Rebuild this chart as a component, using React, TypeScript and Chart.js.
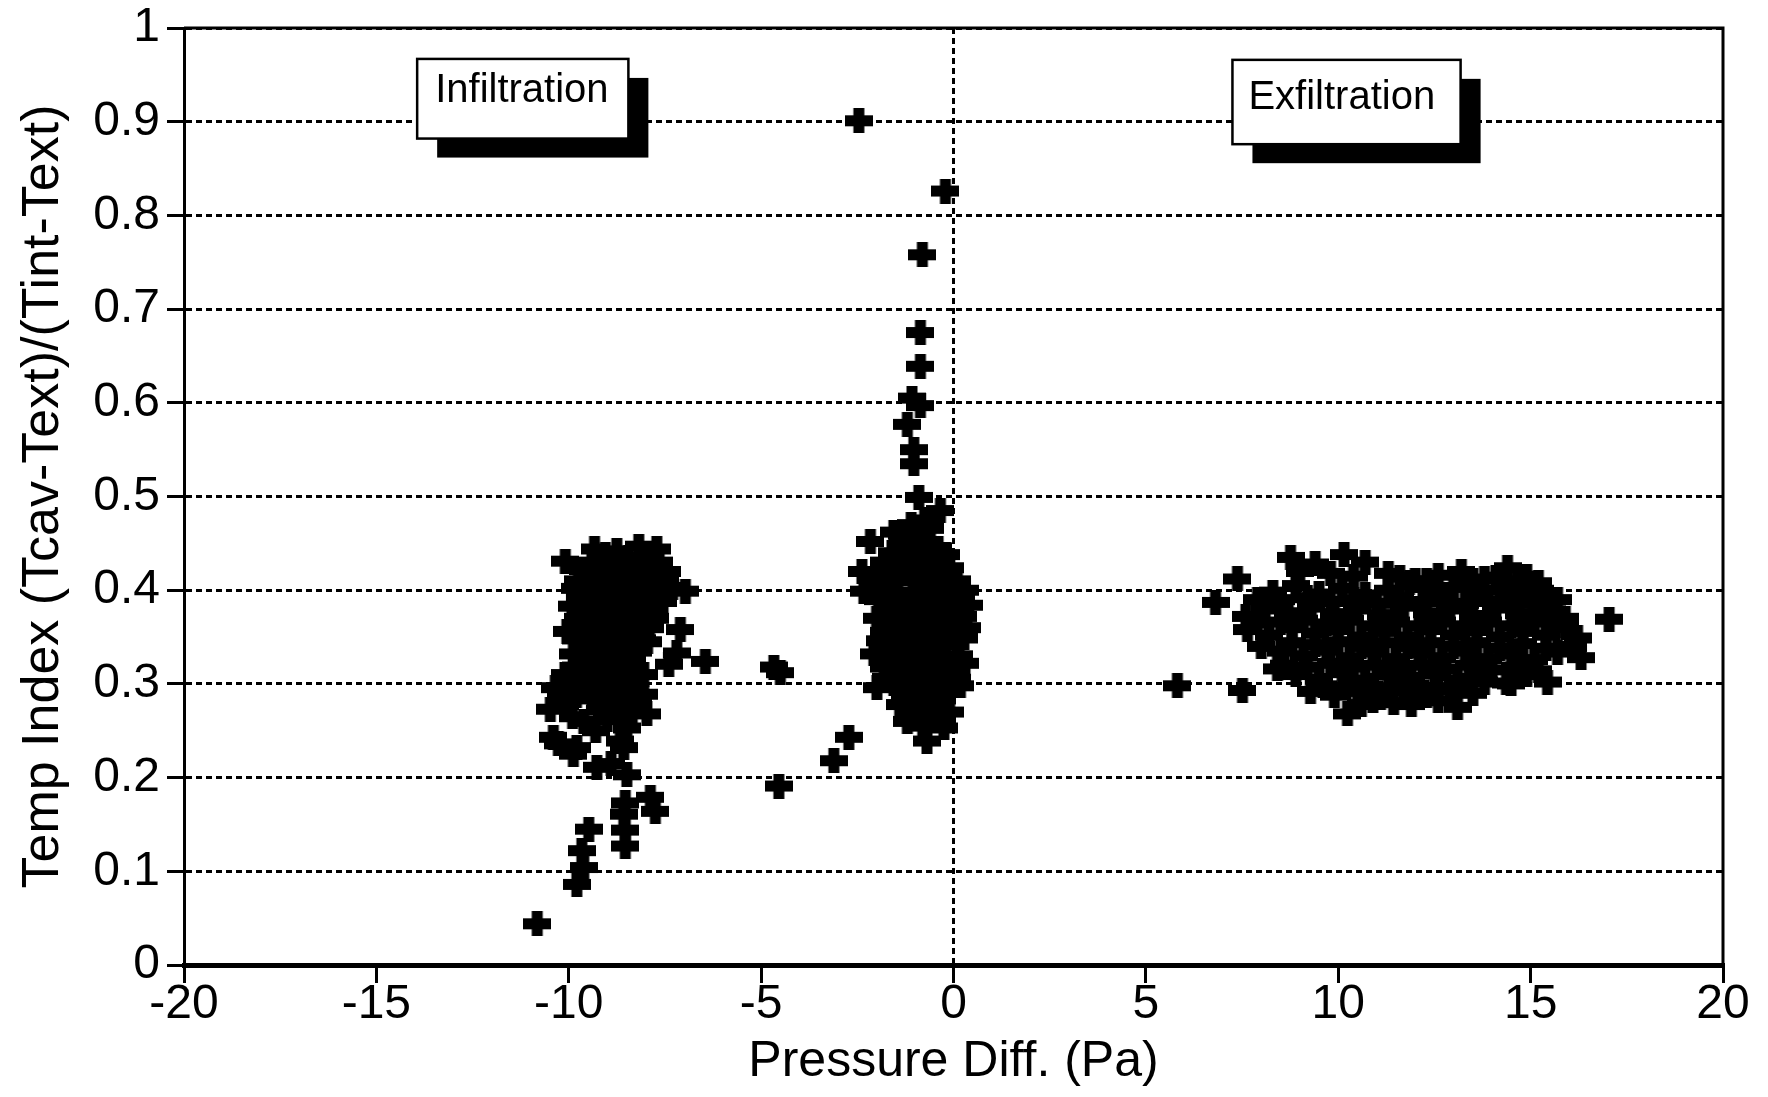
import React, { useEffect, useRef } from "react";
import { Chart, registerables } from "chart.js";

Chart.register(...registerables);

// ---- Data (Pressure Diff. [Pa], Temp Index) ----
const xTickValues = [-20, -15, -10, -5, 0, 5, 10, 15, 20];
const xTickLabels = ["-20", "-15", "-10", "-5", "0", "5", "10", "15", "20"];
const yTickValues = [0, 0.1, 0.2, 0.3, 0.4, 0.5, 0.6, 0.7, 0.8, 0.9, 1];
const yTickLabels = ["0", "0.1", "0.2", "0.3", "0.4", "0.5", "0.6", "0.7", "0.8", "0.9", "1"];

const regionNames = ["Infiltration", "Exfiltration"];
const xAxisTitle = "Pressure Diff. (Pa)";
const yAxisTitle = "Temp Index (Tcav-Text)/(Tint-Text)";

const infiltrationCluster: [number, number][] = [
  [-10.09, 0.431], [-9.33, 0.444], [-8.75, 0.442], [-8.18, 0.447], [-7.71, 0.444], [-9.05, 0.438], [-8.45, 0.435], [-7.95, 0.437],
  [-9.4, 0.43], [-8.95, 0.432], [-8.55, 0.43], [-8.1, 0.428], [-7.65, 0.43],
  [-9.62, 0.422], [-9.2, 0.418], [-8.8, 0.425], [-8.35, 0.42], [-7.9, 0.416], [-7.45, 0.42],
  [-9.75, 0.41], [-9.3, 0.408], [-8.85, 0.412], [-8.4, 0.41], [-7.95, 0.405], [-7.5, 0.41],
  [-9.85, 0.402], [-9.45, 0.405], [-9.0, 0.398], [-8.6, 0.404], [-8.15, 0.4], [-7.7, 0.397], [-7.3, 0.403], [-6.97, 0.399],
  [-9.7, 0.392], [-9.25, 0.39], [-8.8, 0.393], [-8.4, 0.388], [-7.95, 0.39], [-7.55, 0.388],
  [-9.92, 0.383], [-9.5, 0.378], [-9.1, 0.385], [-8.7, 0.38], [-8.25, 0.384], [-7.85, 0.378],
  [-9.75, 0.37], [-9.35, 0.368], [-8.9, 0.372], [-8.5, 0.37], [-8.05, 0.368], [-7.75, 0.37],
  [-10.05, 0.356], [-9.6, 0.362], [-9.2, 0.358], [-8.75, 0.364], [-8.35, 0.357], [-7.9, 0.36], [-7.1, 0.358],
  [-9.8, 0.348], [-9.35, 0.35], [-8.9, 0.348], [-8.45, 0.35], [-8.1, 0.347],
  [-9.88, 0.332], [-9.5, 0.34], [-9.05, 0.336], [-8.6, 0.342], [-8.2, 0.335], [-7.95, 0.345], [-7.4, 0.321], [-7.19, 0.333], [-6.45, 0.324],
  [-9.65, 0.325], [-9.2, 0.328], [-8.75, 0.326], [-8.35, 0.326],
  [-9.8, 0.318], [-9.35, 0.314], [-8.9, 0.32], [-8.45, 0.316], [-8.05, 0.31],
  [-10.1, 0.31], [-9.65, 0.306], [-9.2, 0.308], [-8.75, 0.31], [-8.3, 0.305],
  [-10.35, 0.296], [-9.95, 0.3], [-9.5, 0.294], [-9.05, 0.298], [-8.6, 0.302], [-8.05, 0.289],
  [-10.2, 0.285], [-9.8, 0.288], [-9.4, 0.284], [-8.95, 0.286], [-8.5, 0.29], [-8.2, 0.28],
  [-10.48, 0.273], [-10.1, 0.278], [-9.61, 0.26], [-9.2, 0.272], [-8.75, 0.276], [-8.35, 0.27], [-7.97, 0.268],
  [-9.9, 0.265], [-9.0, 0.262], [-8.6, 0.262],
  [-10.4, 0.243], [-9.79, 0.232], [-9.3, 0.25], [-8.49, 0.253], [-8.66, 0.239], [-8.57, 0.232],
  [-10.27, 0.236], [-9.88, 0.225], [-9.27, 0.211], [-8.49, 0.203], [-8.9, 0.215],
  [-7.88, 0.179], [-7.75, 0.164], [-8.53, 0.173], [-8.57, 0.161], [-8.53, 0.144], [-8.53, 0.127],
  [-9.48, 0.145], [-9.66, 0.122], [-9.61, 0.104], [-9.79, 0.086], [-10.82, 0.044],
];

const transitionPoints: [number, number][] = [
  [-4.67, 0.318], [-4.5, 0.312], [-4.54, 0.191], [-3.11, 0.218], [-2.72, 0.243],
  [-2.46, 0.901], [-0.21, 0.826], [-0.81, 0.758], [-0.86, 0.675], [-0.86, 0.639], [-1.08, 0.605],
  [-0.86, 0.597], [-1.2, 0.577], [-1.03, 0.55], [-1.03, 0.535], [-0.9, 0.499], [-0.34, 0.485], [-0.75, 0.475],
];

const centralCluster: [number, number][] = [
  [-1.55, 0.462], [-1.1, 0.47], [-0.6, 0.466], [-2.16, 0.452], [-1.3, 0.448], [-0.85, 0.452], [-0.4, 0.445],
  [-1.35, 0.46], [-0.85, 0.465], [-1.6, 0.44], [-1.1, 0.44], [-0.65, 0.44], [-0.2, 0.438],
  [-2.38, 0.42], [-1.8, 0.43], [-1.4, 0.425], [-0.95, 0.432], [-0.5, 0.428], [-0.1, 0.424],
  [-2.0, 0.415], [-1.6, 0.412], [-1.2, 0.418], [-0.75, 0.418], [-0.3, 0.415], [0.1, 0.41],
  [-2.33, 0.399], [-1.9, 0.405], [-1.5, 0.398], [-1.05, 0.41], [-0.6, 0.402], [-0.2, 0.406], [0.3, 0.4],
  [-1.95, 0.39], [-1.45, 0.392], [-1.0, 0.395], [-0.55, 0.39], [-0.1, 0.392], [0.2, 0.39],
  [-1.7, 0.382], [-1.25, 0.388], [-0.8, 0.38], [-0.35, 0.385], [0.1, 0.378], [0.4, 0.384],
  [-2.0, 0.37], [-1.55, 0.373], [-1.15, 0.375], [-0.65, 0.37], [-0.25, 0.372], [0.25, 0.372],
  [-1.45, 0.362], [-1.0, 0.366], [-0.55, 0.358], [-0.1, 0.364], [0.35, 0.36],
  [-1.8, 0.355], [-1.25, 0.352], [-0.8, 0.35], [-0.4, 0.352], [0.0, 0.35],
  [-1.9, 0.346], [-2.07, 0.332], [-1.6, 0.338], [-1.15, 0.342], [-0.7, 0.336], [-0.25, 0.345], [0.27, 0.349], [0.15, 0.33],
  [-1.6, 0.325], [-1.1, 0.33], [-0.65, 0.326], [-0.2, 0.33], [0.3, 0.322],
  [-1.8, 0.318], [-1.35, 0.322], [-0.9, 0.315], [-0.45, 0.32], [0.0, 0.312],
  [-1.75, 0.306], [-1.3, 0.308], [-0.8, 0.306], [-0.35, 0.31], [0.1, 0.305],
  [-1.99, 0.296], [-1.55, 0.3], [-1.1, 0.294], [-0.6, 0.3], [-0.15, 0.292], [0.18, 0.298],
  [-1.25, 0.286], [-0.75, 0.288], [-0.3, 0.284],
  [-1.4, 0.278], [-0.95, 0.272], [-0.5, 0.278], [-0.1, 0.27],
  [-1.0, 0.265], [-0.55, 0.264], [-0.3, 0.262],
  [-1.2, 0.26], [-0.69, 0.239], [-0.25, 0.253], [-0.8, 0.255],
];

const exfiltrationCluster: [number, number][] = [
  [5.82, 0.298], [6.81, 0.387], [7.38, 0.412], [7.51, 0.293], [17.04, 0.369], [15.44, 0.302], [16.31, 0.328],
  [8.76, 0.435], [9.4, 0.428], [10.15, 0.438], [10.7, 0.43], [11.3, 0.418], [12.0, 0.41], [12.6, 0.416], [13.2, 0.42], [13.8, 0.412], [14.4, 0.424], [14.9, 0.415],
  [9.0, 0.42], [9.8, 0.418], [10.4, 0.415], [11.6, 0.414], [12.3, 0.41], [13.5, 0.41], [14.1, 0.414], [14.65, 0.41], [15.2, 0.408],
  [8.3, 0.398], [8.9, 0.405], [9.5, 0.396], [10.1, 0.402], [10.7, 0.395], [11.3, 0.4], [11.85, 0.408], [12.45, 0.397], [13.0, 0.403], [13.6, 0.395], [14.2, 0.4], [14.8, 0.394], [15.25, 0.4], [15.7, 0.39],
  [7.9, 0.39], [8.5, 0.39], [9.2, 0.392], [9.8, 0.388], [10.4, 0.39], [11.0, 0.386], [11.6, 0.392], [12.2, 0.388], [12.75, 0.39], [13.3, 0.386], [13.9, 0.388], [14.5, 0.39], [15.05, 0.386], [15.55, 0.378],
  [7.6, 0.372], [8.1, 0.38], [8.7, 0.376], [9.3, 0.382], [9.9, 0.375], [10.5, 0.38], [11.1, 0.374], [11.7, 0.383], [12.3, 0.376], [12.9, 0.38], [13.5, 0.373], [14.1, 0.381], [14.7, 0.375], [15.3, 0.378], [15.9, 0.37],
  [7.9, 0.365], [8.5, 0.366], [9.1, 0.368], [9.7, 0.364], [10.3, 0.368], [10.9, 0.362], [11.5, 0.366], [12.1, 0.362], [12.7, 0.366], [13.3, 0.362], [13.9, 0.366], [14.5, 0.362], [15.1, 0.366], [15.65, 0.362], [16.1, 0.34],
  [7.64, 0.358], [8.2, 0.352], [8.8, 0.36], [9.4, 0.354], [10.0, 0.358], [10.6, 0.35], [11.2, 0.356], [11.8, 0.35], [12.4, 0.358], [13.0, 0.352], [13.6, 0.357], [14.2, 0.35], [14.8, 0.356], [15.4, 0.352], [16.22, 0.349], [15.9, 0.36],
  [8.0, 0.34], [8.8, 0.344], [9.4, 0.342], [10.0, 0.345], [10.6, 0.34], [11.2, 0.344], [11.8, 0.34], [12.4, 0.344], [13.0, 0.34], [13.6, 0.344], [14.2, 0.338], [14.8, 0.343], [15.4, 0.338],
  [8.42, 0.316], [8.5, 0.335], [9.1, 0.33], [9.7, 0.336], [10.3, 0.328], [10.9, 0.334], [11.5, 0.327], [12.1, 0.333], [12.7, 0.328], [13.3, 0.335], [13.9, 0.327], [14.5, 0.332], [15.1, 0.326], [15.7, 0.334],
  [8.6, 0.32], [9.2, 0.318], [9.8, 0.322], [10.4, 0.318], [11.0, 0.32], [11.6, 0.316], [12.2, 0.32], [12.8, 0.316], [13.4, 0.32], [14.0, 0.315], [14.6, 0.318], [15.2, 0.314],
  [8.9, 0.31], [9.5, 0.305], [10.1, 0.312], [10.7, 0.304], [11.3, 0.31], [11.9, 0.306], [12.5, 0.311], [13.1, 0.304], [13.64, 0.319], [14.37, 0.301], [14.9, 0.31],
  [9.6, 0.298], [10.2, 0.296], [10.8, 0.298], [11.4, 0.296], [12.0, 0.299], [12.6, 0.296], [13.2, 0.298], [13.8, 0.302],
  [9.28, 0.292], [9.9, 0.288], [10.5, 0.292], [11.1, 0.286], [11.7, 0.293], [12.3, 0.288], [12.9, 0.294], [13.5, 0.29], [14.49, 0.3],
  [10.9, 0.282], [11.9, 0.278],
  [10.24, 0.268], [10.6, 0.278], [11.44, 0.28], [12.0, 0.285], [13.1, 0.275], [12.6, 0.282],
];

const FONT = "'Liberation Sans', Arial, Helvetica, sans-serif";

function makePlus(): HTMLCanvasElement {
  const c = document.createElement("canvas");
  c.width = 28;
  c.height = 25;
  const g = c.getContext("2d")!;
  g.fillStyle = "#000";
  g.fillRect(0, 7, 28, 11);
  g.fillRect(8.5, 0, 11, 25);
  return c;
}

const framePlugin = {
  id: "frameAndLabels",
  beforeDraw(chart: any) {
    const { ctx, width, height } = chart;
    ctx.save();
    ctx.fillStyle = "#fff";
    ctx.fillRect(0, 0, width, height);
    ctx.restore();
  },
  afterDraw(chart: any) {
    const { ctx, chartArea } = chart;
    ctx.save();
    ctx.strokeStyle = "#000";
    ctx.lineWidth = 3;
    ctx.setLineDash([]);
    ctx.beginPath();
    ctx.moveTo(chartArea.left, chartArea.top);
    ctx.lineTo(chartArea.right, chartArea.top);
    ctx.lineTo(chartArea.right, chartArea.bottom);
    ctx.stroke();

    const xs = chart.scales.x;
    const ys = chart.scales.y;
    const boxes = [
      { text: regionNames[0], x0: -13.94, x1: -8.45, y0: 0.967, y1: 0.882, tx: 18, ty: 43 },
      { text: regionNames[1], x0: 7.25, x1: 13.18, y0: 0.966, y1: 0.876, tx: 16, ty: 49 },
    ];
    for (const b of boxes) {
      const L = xs.getPixelForValue(b.x0);
      const R = xs.getPixelForValue(b.x1);
      const T = ys.getPixelForValue(b.y0);
      const B = ys.getPixelForValue(b.y1);
      ctx.fillStyle = "#000";
      ctx.fillRect(L + 20, T + 19, R - L, B - T);
      ctx.fillStyle = "#fff";
      ctx.fillRect(L, T, R - L, B - T);
      ctx.lineWidth = 2.5;
      ctx.strokeStyle = "#000";
      ctx.strokeRect(L, T, R - L, B - T);
      ctx.fillStyle = "#000";
      ctx.font = `40px ${FONT}`;
      ctx.textAlign = "left";
      ctx.textBaseline = "alphabetic";
      ctx.fillText(b.text, L + b.tx, T + b.ty);
    }
    ctx.restore();
  },
};

export default function App() {
  const ref = useRef<HTMLCanvasElement | null>(null);

  useEffect(() => {
    document.body.style.margin = "0";
    if (!ref.current) return;
    const plus = makePlus();
    const toPts = (arr: [number, number][]) => arr.map(([x, y]) => ({ x, y }));
    const ds = (label: string, arr: [number, number][]) => ({
      label,
      data: toPts(arr),
      pointStyle: plus,
      pointRadius: 12,
      pointHoverRadius: 12,
      backgroundColor: "#000",
      borderColor: "#000",
      showLine: false,
    });

    const chart = new Chart(ref.current, {
      type: "scatter",
      data: {
        datasets: [
          ds("infiltration", infiltrationCluster),
          ds("transition", transitionPoints),
          ds("central", centralCluster),
          ds("exfiltration", exfiltrationCluster),
        ],
      },
      options: {
        animation: false,
        responsive: false,
        devicePixelRatio: 1,
        layout: { padding: { left: 0, top: 28, right: 45, bottom: 0 } },
        plugins: { legend: { display: false }, tooltip: { enabled: false } },
        scales: {
          x: {
            type: "linear",
            min: -20,
            max: 20,
            afterBuildTicks: (s: any) => {
              s.ticks = xTickValues.map((v) => ({ value: v }));
            },
            afterFit: (s: any) => {
              s.height = 132;
              s.paddingLeft = 0;
              s.paddingRight = 0;
            },
            ticks: {
              autoSkip: false,
              maxRotation: 0,
              color: "#000",
              padding: -7,
              font: { family: FONT, size: 48 },
              callback: (v: any) => {
                const i = xTickValues.indexOf(Number(v));
                return i >= 0 ? xTickLabels[i] : "";
              },
            },
            grid: {
              color: (c: any) => (c.tick && c.tick.value === 0 ? "#000" : "rgba(0,0,0,0)"),
              lineWidth: 3,
              drawTicks: true,
              tickLength: 18,
              tickColor: "#000",
              tickWidth: 3,
              tickBorderDash: [],
            },
            border: { display: true, color: "#000", width: 5, dash: [6, 4] },
            title: {
              display: true,
              text: xAxisTitle,
              color: "#000",
              font: { family: FONT, size: 50 },
              padding: { top: 0, bottom: 5 },
            },
          },
          y: {
            type: "linear",
            min: 0,
            max: 1,
            afterBuildTicks: (s: any) => {
              s.ticks = yTickValues.map((v) => ({ value: v }));
            },
            afterFit: (s: any) => {
              s.width = 184;
              s.paddingTop = 0;
              s.paddingBottom = 0;
            },
            ticks: {
              autoSkip: false,
              color: "#000",
              padding: 7,
              font: { family: FONT, size: 48 },
              callback: (v: any) => {
                const i = yTickValues.findIndex((t) => Math.abs(t - Number(v)) < 1e-9);
                return i >= 0 ? yTickLabels[i] : "";
              },
            },
            grid: {
              color: "#000",
              lineWidth: 3,
              drawTicks: true,
              tickLength: 17,
              tickColor: "#000",
              tickWidth: 3,
              tickBorderDash: [],
            },
            border: { display: true, color: "#000", width: 3, dash: [6, 4] },
            title: {
              display: true,
              text: yAxisTitle,
              color: "#000",
              font: { family: FONT, size: 52 },
              padding: { top: 12, bottom: 0 },
            },
          },
        },
      },
      plugins: [framePlugin],
    } as any);

    return () => chart.destroy();
  }, []);

  return (
    <div style={{ width: 1768, height: 1097, position: "relative", background: "#fff" }}>
      <canvas ref={ref} width={1768} height={1097} style={{ display: "block", width: 1768, height: 1097 }} />
    </div>
  );
}
